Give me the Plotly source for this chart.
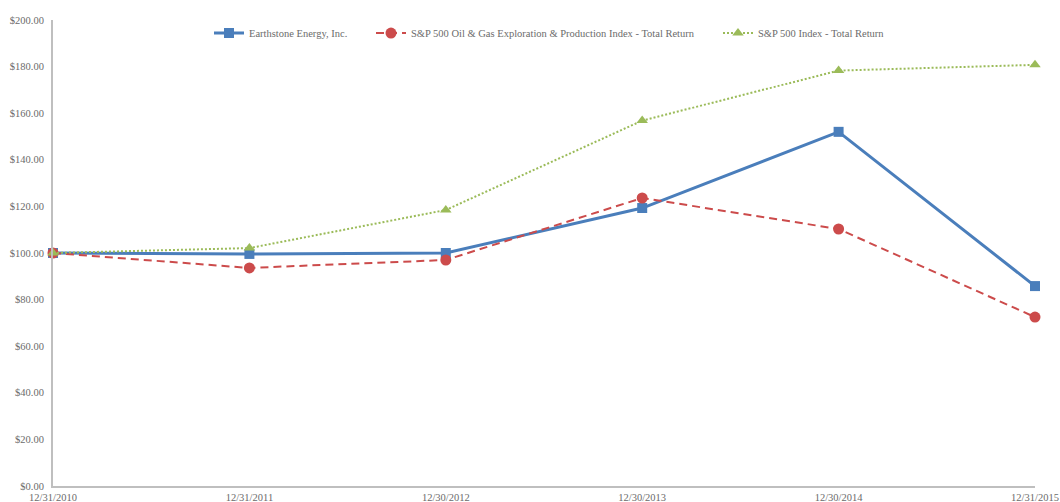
import plotly.graph_objects as go

dates = ["12/31/2010", "12/31/2011", "12/30/2012", "12/30/2013", "12/30/2014", "12/31/2015"]
earthstone = [100.00, 99.6, 100.0, 119.3, 152.0, 85.8]
sp_oil_gas = [100.00, 93.6, 97.0, 123.6, 110.3, 72.5]
sp500 = [100.00, 102.11, 118.45, 156.82, 178.29, 180.75]
y_ticks = [0, 20, 40, 60, 80, 100, 120, 140, 160, 180, 200]
y_tick_labels = ["$%.2f" % v for v in y_ticks]

font_family = "Liberation Serif"
grey = "#6b6b6b"
fsize = 10.5

fig = go.Figure()
fig.add_trace(go.Scatter(
    x=dates, y=earthstone, name="Earthstone Energy, Inc.",
    mode="lines+markers", cliponaxis=False, legend="legend",
    line=dict(color="#4A7EBB", width=3),
    marker=dict(symbol="square", size=10, color="#4A7EBB"),
))
fig.add_trace(go.Scatter(
    x=dates, y=sp_oil_gas, name="S&P 500 Oil & Gas Exploration & Production Index - Total Return",
    mode="lines+markers", cliponaxis=False, legend="legend2",
    line=dict(color="#CC4B4B", width=2, dash="8px,5px"),
    marker=dict(symbol="circle", size=11, color="#CC4B4B"),
))
fig.add_trace(go.Scatter(
    x=dates, y=sp500, name="S&P 500 Index - Total Return",
    mode="lines+markers", cliponaxis=False, legend="legend3",
    line=dict(color="#9BBB59", width=2, dash="2px,2px"),
    marker=dict(symbol="triangle-up", size=10, color="#9BBB59"),
))

def leg(xpx):
    return dict(orientation="h", x=(xpx - 53) / 982, xanchor="left", y=0.972, yanchor="middle",
                font=dict(family=font_family, size=fsize, color=grey), bgcolor="rgba(0,0,0,0)")

fig.update_layout(
    width=1060, height=502,
    margin=dict(l=53, r=25, t=20, b=16),
    paper_bgcolor="white", plot_bgcolor="white",
    font=dict(family=font_family, size=fsize, color=grey),
    showlegend=True,
    legend=leg(209),
    legend2=leg(371),
    legend3=leg(718),
    xaxis=dict(type="category", range=[0, 5], showgrid=False, showline=True, automargin=False,
               linecolor="#BFBFBF", linewidth=2, ticks="", tickfont=dict(size=fsize, color=grey),
               zeroline=False),
    yaxis=dict(range=[0, 200], tickvals=y_ticks, ticktext=y_tick_labels, showgrid=False,
               automargin=False, ticklabelstandoff=5,
               showline=True, linecolor="#BFBFBF", linewidth=2, ticks="",
               tickfont=dict(size=fsize, color=grey), zeroline=False),
)
fig.write_html("out.html")
